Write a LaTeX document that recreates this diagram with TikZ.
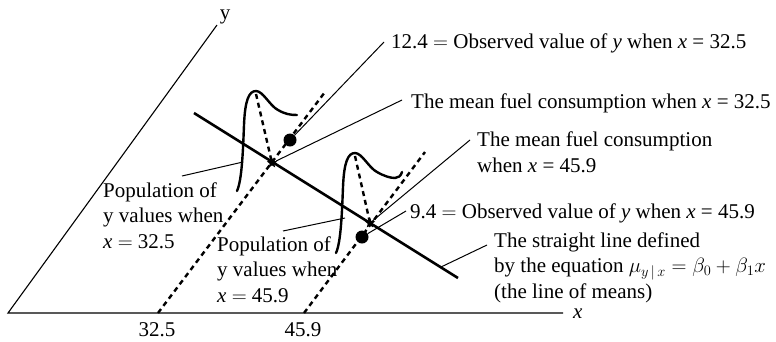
\documentclass[tikz,border=0pt]{standalone}
\usepackage{fontspec}
\setmainfont{Liberation Serif}
\usetikzlibrary{shapes.geometric}
\begin{document}
\begin{tikzpicture}[x=1pt,y=-1pt,
  lbl/.style={font=\fontsize{21}{25.5}\selectfont, inner sep=0pt, align=left},
  axisline/.style={line width=1.1pt},
  leader/.style={line width=1pt},
  meanline/.style={line width=2.6pt},
  bell/.style={line width=2.4pt, line cap=round},
  dotln/.style={line width=2.4pt, dash pattern=on 5pt off 4pt},
  starmark/.style={star, star points=5, star point ratio=2.3, fill=black, inner sep=0pt, minimum size=11pt},
  dotmark/.style={circle, fill=black, inner sep=0pt, minimum size=13pt}]
\useasboundingbox (0,0) rectangle (776,341);
% axes
\coordinate (O) at (8,313);
\coordinate (xe) at (563,313);
\coordinate (ye) at (217,25);
\draw[axisline] (ye) -- (O) -- (xe);
\node[lbl, anchor=base west] (xl) at (573,318) {\textit{x}};
\node[lbl, anchor=base] (yl) at (225,19) {y};
% ticks
\coordinate (t1) at (158,313);
\coordinate (t2) at (304,313);
\coordinate (d1) at (325,92);
\coordinate (d2) at (425,152);
\node[lbl, anchor=base] (tl1) at (157,336) {32.5};
\node[lbl, anchor=base] (tl2) at (303,336) {45.9};
\draw[dotln] (t1) -- (d1);
\draw[dotln] (t2) -- (d2);
% line of means
\coordinate (r1) at (194,113);
\coordinate (r2) at (458,278);
\draw[meanline] (r1) -- (r2);
% bells
\draw[bell] (237,191) .. controls (242,180) and (243,150) .. (244,125)
  .. controls (245,100) and (249,91) .. (256,91)
  .. controls (263,91) and (270,106) .. (278,110)
  .. controls (285,114) and (290,115) .. (297,115);
\draw[bell] (336,253) .. controls (341,242) and (342,212) .. (343,187)
  .. controls (344,162) and (348,153) .. (355,153)
  .. controls (362,153) and (369,168) .. (377,172)
  .. controls (384,176) and (390,178) .. (395,178)
  .. controls (398,178) and (401,176) .. (402,172);
\coordinate (p1) at (256,94);
\coordinate (p2) at (355,156);
% marks
\node[starmark] (m1) at (272,163) {};
\node[starmark] (m2) at (370,223) {};
\node[dotmark] (o1) at (290,140) {};
\node[dotmark] (o2) at (362,237) {};
\draw[dotln] (p1) -- (m1.center);
\draw[dotln] (p2) -- (m2.center);
% labels (base anchor = baseline of the last line)
\node[lbl, anchor=base west] (lab1) at (391,48) {12.4 $=$ Observed value of \textit{y} when \textit{x} = 32.5};
\node[lbl, anchor=base west] (lab2) at (411,108) {The mean fuel consumption when \textit{x} = 32.5};
\node[lbl, anchor=base west] (lab3) at (477,172) {The mean fuel consumption\\ when \textit{x} = 45.9};
\node[lbl, anchor=base west] (lab4) at (410,218) {9.4 $=$ Observed value of \textit{y} when \textit{x} = 45.9};
\node[lbl, anchor=base west] (lab5) at (494,298) {The straight line defined\\ by the equation $\mu_{y\,|\,x} = \beta_0 + \beta_1 x$\\ (the line of means)};
\node[lbl, anchor=base west] (lab6) at (103,248) {Population of\\ y values when\\ \textit{x} $=$ 32.5};
\node[lbl, anchor=base west] (lab7) at (217,302) {Population of\\ y values when\\ \textit{x} $=$ 45.9};
% leader ends
\coordinate (c1) at (384,42);
\coordinate (c2) at (402,100);
\coordinate (c3) at (470,140);
\coordinate (c4) at (406,211);
\coordinate (c5) at (487,245);
\coordinate (c6) at (182,176);
\coordinate (c7) at (283,231);
\coordinate (rp) at (441,267);
\coordinate (b1) at (243,162);
\coordinate (b2) at (345,218);
\draw[leader] (o1) -- (c1);
\draw[leader] (m1) -- (c2);
\draw[leader] (m2) -- (c3);
\draw[leader] (o2) -- (c4);
\draw[leader] (rp) -- (c5);
\draw[leader] (b1) -- (c6);
\draw[leader] (b2) -- (c7);
\end{tikzpicture}
\end{document}
